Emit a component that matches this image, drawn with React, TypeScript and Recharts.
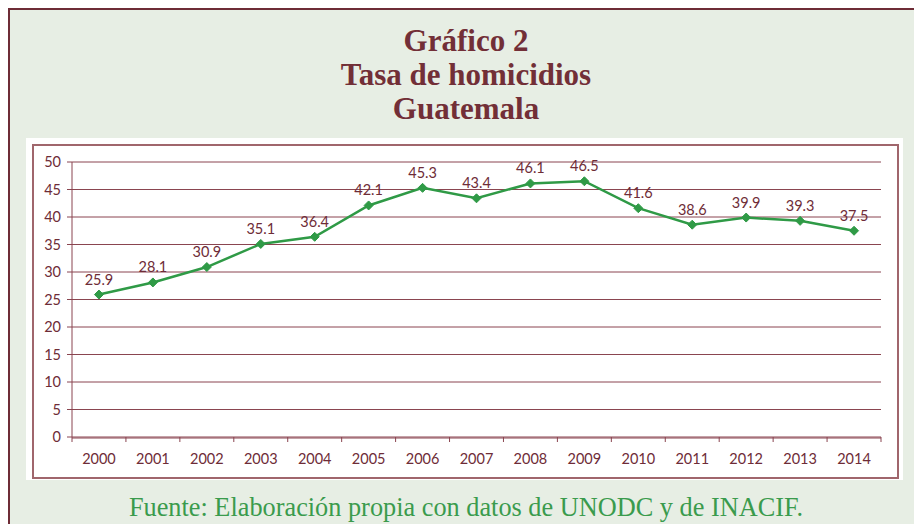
import React from "react";
import { LineChart, Line, XAxis, YAxis, CartesianGrid, LabelList } from "recharts";

const years = ["2000","2001","2002","2003","2004","2005","2006","2007","2008","2009","2010","2011","2012","2013","2014"];
const rates = [25.9, 28.1, 30.9, 35.1, 36.4, 42.1, 45.3, 43.4, 46.1, 46.5, 41.6, 38.6, 39.9, 39.3, 37.5];
const yTicks = [0, 5, 10, 15, 20, 25, 30, 35, 40, 45, 50];
const edgeTicks = [0, 1, 2, 3, 4, 5, 6, 7, 8, 9, 10, 11, 12, 13, 14, 15];
const titleLines = ["Gráfico 2", "Tasa de homicidios", "Guatemala"];
const source = "Fuente: Elaboración propia con datos de UNODC y de INACIF.";

const data = years.map((y, i) => ({ year: y, rate: rates[i], i }));

const MAROON = "#6e2c37";
const GRID = "#8a4550";
const GREEN = "#2f9a46";
const FONT = "Lato, 'Open Sans', sans-serif";

const Diamond = (props: any) => {
  const { cx, cy } = props;
  if (cx == null || cy == null) return null;
  const r = 4.5;
  return <path d={`M${cx},${cy - r}L${cx + r},${cy}L${cx},${cy + r}L${cx - r},${cy}Z`} fill={GREEN} stroke={GREEN} />;
};

const EmptyTick = (_props: any) => <g />;

export default function App() {
  return (
    <div style={{ position: "relative", width: 922, height: 532, margin: -8, overflow: "hidden", background: "#e7eee4" }}>
      <div style={{ position: "absolute", left: 7, top: 7, width: 960, height: 600, border: "3px solid #6e2c36", boxSizing: "border-box" }} />
      <div style={{ position: "absolute", left: 0, top: 24, width: 932, textAlign: "center", fontFamily: "'Liberation Serif', serif", fontWeight: "bold", fontSize: 31, lineHeight: "34px", color: "#722f37" }}>
        {titleLines.map((t) => <div key={t}>{t}</div>)}
      </div>
      <div style={{ position: "absolute", left: 26, top: 138, width: 877, height: 342, background: "#ffffff" }} />
      <div style={{ position: "absolute", left: 32, top: 144, width: 867, height: 335, border: "2px solid #a0666c", boxSizing: "border-box" }} />
      <div style={{ position: "absolute", left: 0, top: 0 }}>
        <LineChart width={922} height={532} data={data} margin={{ top: 162, right: 41, bottom: 64, left: 0 }}>
          <CartesianGrid horizontal vertical={false} stroke={GRID} strokeWidth={1} />
          <XAxis xAxisId="a_edge" type="number" dataKey="i" domain={[0, 15]} ticks={edgeTicks} height={1} axisLine={false} tickLine={{ stroke: GRID, strokeWidth: 1 }} tickSize={5} tick={<EmptyTick />} interval={0} allowDataOverflow />
          <XAxis xAxisId="b_cat" dataKey="year" scale="band" height={30} axisLine={{ stroke: GRID, strokeWidth: 1 }} tickLine={false} tick={{ fill: MAROON, fontSize: 14.5, fontFamily: FONT }} dy={8} interval={0} />
          <YAxis domain={[0, 50]} ticks={yTicks} width={72} axisLine={{ stroke: GRID }} tickLine={{ stroke: GRID }} tickSize={5} tick={{ fill: MAROON, fontSize: 14.5, fontFamily: FONT }} dx={-4} interval={0} />
          <Line xAxisId="b_cat" type="linear" dataKey="rate" stroke={GREEN} strokeWidth={2.5} dot={<Diamond />} isAnimationActive={false}>
            <LabelList dataKey="rate" position="top" offset={10} fill={MAROON} fontSize={14.5} fontFamily={FONT} />
          </Line>
        </LineChart>
      </div>
      <div style={{ position: "absolute", left: 0, top: 492, width: 932, textAlign: "center", fontFamily: "'Liberation Serif', serif", fontSize: 26.3, lineHeight: "32px", color: "#3a9b4d" }}>
        {source}
      </div>
    </div>
  );
}
